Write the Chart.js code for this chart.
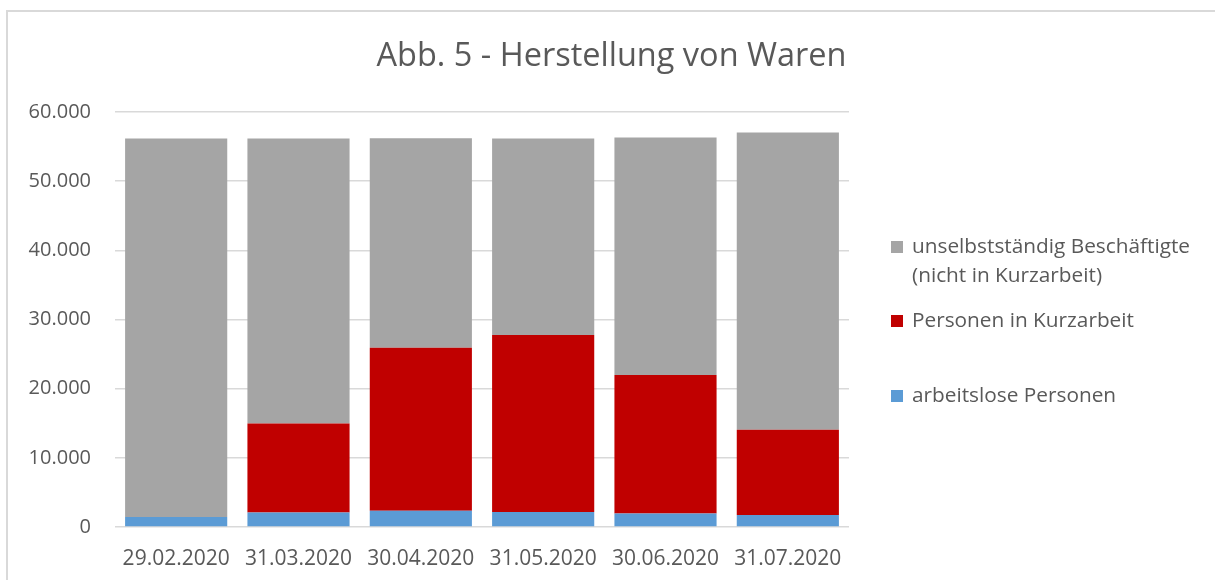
<!DOCTYPE html>
<html>
<head>
<meta charset="utf-8">
<script src="https://cdn.jsdelivr.net/npm/chart.js@4"></script>
<style>
  html, body { margin: 0; padding: 0; background: #fff; }
  #wrap { width: 1215px; height: 580px; position: relative; }
</style>
</head>
<body>
<div id="wrap"><canvas id="chart"></canvas></div>
<script>
const categories = ['29.02.2020', '31.03.2020', '30.04.2020', '31.05.2020', '30.06.2020', '31.07.2020'];
const arbeitslose = [1450, 2110, 2350, 2170, 1960, 1730];
const kurzarbeit = [0, 12850, 23580, 25590, 20030, 12320];
const beschaeftigte = [54710, 41200, 30270, 28400, 34310, 42970];
const legendLabels = [['unselbstständig Beschäftigte', '(nicht in Kurzarbeit)'], ['Personen in Kurzarbeit'], ['arbeitslose Personen']];
const yTicks = [0, 10000, 20000, 30000, 40000, 50000, 60000];

const textColor = '#595959';
const fontFamily = '"Open Sans", "Noto Sans", sans-serif';

function fmt(v) {
  return String(v).replace(/\B(?=(\d{3})+(?!\d))/g, '.');
}

// frame + legend drawn on the canvas
const extras = {
  id: 'extras',
  beforeDraw(chart) {
    const c = chart.ctx;
    c.save();
    c.strokeStyle = '#d9d9d9';
    c.lineWidth = 2;
    c.beginPath();
    c.moveTo(7, 580);
    c.lineTo(7, 11);
    c.lineTo(1215, 11);
    c.stroke();
    c.restore();
  },
  afterDraw(chart) {
    const c = chart.ctx;
    const ds = chart.data.datasets;
    const order = [2, 1, 0];
    const ys = [[247, 276], [321], [396]];
    c.save();
    c.font = '20.8px ' + fontFamily;
    c.textBaseline = 'middle';
    order.forEach((di, i) => {
      c.fillStyle = ds[di].backgroundColor;
      c.fillRect(891, ys[i][0] - 6, 12, 12);
      c.fillStyle = textColor;
      legendLabels[i].forEach((line, li) => {
        c.fillText(line, 912, ys[i][li]);
      });
    });
    c.restore();
  }
};

const data = {
  labels: categories,
  datasets: [
    { label: 'arbeitslose Personen', data: arbeitslose, backgroundColor: '#5b9bd5' },
    { label: 'Personen in Kurzarbeit', data: kurzarbeit, backgroundColor: '#c00000' },
    { label: 'unselbstständig Beschäftigte (nicht in Kurzarbeit)', data: beschaeftigte, backgroundColor: '#a5a5a5' }
  ]
};

const config = {
  type: 'bar',
  data: data,
  plugins: [extras],
  options: {
    responsive: false,
    animation: false,
    barPercentage: 0.835,
    categoryPercentage: 1,
    layout: { padding: { left: 8, right: 0, top: 0, bottom: 9 } },
    plugins: {
      legend: { display: false },
      tooltip: { enabled: false },
      title: {
        display: true,
        text: 'Abb. 5 - Herstellung von Waren',
        color: textColor,
        font: { family: fontFamily, size: 32.5, weight: 'normal', lineHeight: 1.2 },
        padding: { top: 37, bottom: 36 }
      }
    },
    scales: {
      x: {
        stacked: true,
        grid: { display: false, drawTicks: false },
        border: { display: false },
        ticks: { color: textColor, padding: 19, font: { family: fontFamily, size: 21 }, maxRotation: 0 },
        afterFit(scale) { scale.height = 44; }
      },
      y: {
        stacked: true,
        min: 0,
        max: 60000,
        afterBuildTicks(scale) { scale.ticks = yTicks.map(v => ({ value: v })); },
        grid: { color: '#d9d9d9', lineWidth: 1.5, drawTicks: false },
        border: { display: false },
        ticks: { color: textColor, padding: 24, font: { family: fontFamily, size: 20 }, callback: v => fmt(v) },
        afterFit(scale) { scale.width = 107; }
      },
      spacer: {
        position: 'right',
        display: true,
        grid: { display: false, drawTicks: false },
        border: { display: false },
        ticks: { display: false },
        afterFit(scale) { scale.width = 366; }
      }
    }
  }
};

const canvas = document.getElementById('chart');
canvas.width = 1215;
canvas.height = 580;
const chart = new Chart(canvas.getContext('2d'), config);
</script>
</body>
</html>
